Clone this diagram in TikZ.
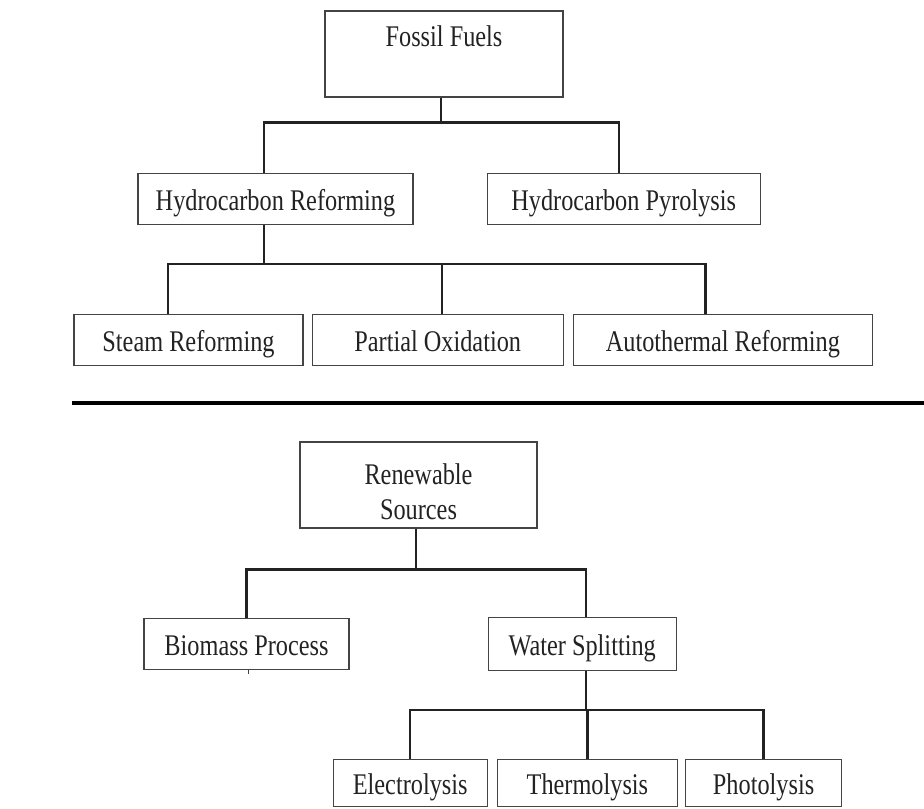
\documentclass[tikz,border=0pt]{standalone}
\usepackage{fontspec}
\setmainfont{Liberation Serif}[FakeStretch=0.81]
\usepackage{xcolor}
\usepackage{tikz}
\usetikzlibrary{positioning}

\definecolor{boxline}{HTML}{444444}
\definecolor{linkline}{HTML}{222222}

\begin{document}
\begin{tikzpicture}[node distance=4pt, font=\fontsize{15}{17.5}\selectfont, text=linkline]
    \tikzstyle{topbox} = [draw=boxline, rectangle, line width=0.6pt, align=center, minimum height=43pt, inner sep=0pt]
    \tikzstyle{leaf} = [draw=boxline, rectangle, line width=0.6pt, align=center, minimum height=25.5pt, inner sep=0pt, text height=12.5pt, text depth=0.5pt]
    \tikzstyle{link} = [draw=linkline, line width=1.2pt]

    \useasboundingbox (0,0) rectangle (462pt,-404pt);

    \node [topbox, minimum width=119pt] (fossil) at (222pt,-27pt) {Fossil Fuels\\\mbox{}};
    \node [leaf, minimum width=137.5pt, below=37.5pt of fossil, xshift=-84.25pt] (hcref) {Hydrocarbon Reforming};
    \node [leaf, minimum width=136.5pt, right=36.5pt of hcref] (hcpyr) {Hydrocarbon Pyrolysis};
    \node [leaf, minimum width=114.5pt, below=44.5pt of hcref, xshift=-43.5pt] (steam) {Steam Reforming};
    \node [leaf, minimum width=125.5pt, right=4pt of steam] (partox) {Partial Oxidation};
    \node [leaf, minimum width=149.5pt, right=4.5pt of partox] (autotherm) {Autothermal Reforming};

    \node [topbox, minimum width=118.5pt] (renew) at (209.25pt,-242.5pt) {\rule{0pt}{17.5pt}Renewable\\Sources};
    \node [leaf, minimum width=102.5pt, below=44.5pt of renew, xshift=-86pt] (biomass) {Biomass Process};
    \node [leaf, minimum width=94pt, minimum height=26.5pt, right=69pt of biomass] (watsplit) {Water Splitting};
    \node [leaf, minimum width=77pt, minimum height=23.5pt, below=44pt of watsplit, xshift=-86pt] (electro) {Electrolysis};
    \node [leaf, minimum width=90pt, minimum height=23.5pt, right=4.5pt of electro] (thermo) {Thermolysis};
    \node [leaf, minimum width=78pt, minimum height=23.5pt, right=3.5pt of thermo] (photo) {Photolysis};

    \coordinate [below=12.5pt of fossil.south, xshift=-1.5pt] (ffbus);
    \coordinate [below=19.5pt of hcref.south, xshift=-5.75pt] (hcbus);
    \coordinate [below=20.5pt of renew.south, xshift=-1.25pt] (rsbus);
    \coordinate [below=19.5pt of watsplit.south, xshift=2pt] (wsbus);

    \draw [link] ([xshift=-1.5pt]fossil.south) -- (ffbus);
    \draw [link] ([xshift=-5.75pt]hcref.north) |- (ffbus) -| ([xshift=-2.25pt]hcpyr.north);
    \draw [link] ([xshift=-5.75pt]hcref.south) -- (hcbus);
    \draw [link] ([xshift=-10.25pt]steam.north) |- (hcbus) -| ([xshift=-8.75pt]autotherm.north);
    \draw [link] ([xshift=2.25pt]partox.north) -- ++(0,25pt);

    \draw [line width=2pt, black] (36pt,-201.5pt) -- (462pt,-201.5pt);

    \draw [link] ([xshift=-1.25pt]renew.south) -- (rsbus);
    \draw [link] (biomass.north) |- (rsbus) -| ([xshift=2pt]watsplit.north);
    \draw [line width=0.6pt, boxline] ([xshift=1pt]biomass.south) -- ++(0,-2pt);
    \draw [link] ([xshift=2pt]watsplit.south) -- (wsbus);
    \draw [link] (electro.north) |- (wsbus) -| (photo.north);
    \draw [link] (thermo.north) -- ++(0,24.5pt);
\end{tikzpicture}
\end{document}
